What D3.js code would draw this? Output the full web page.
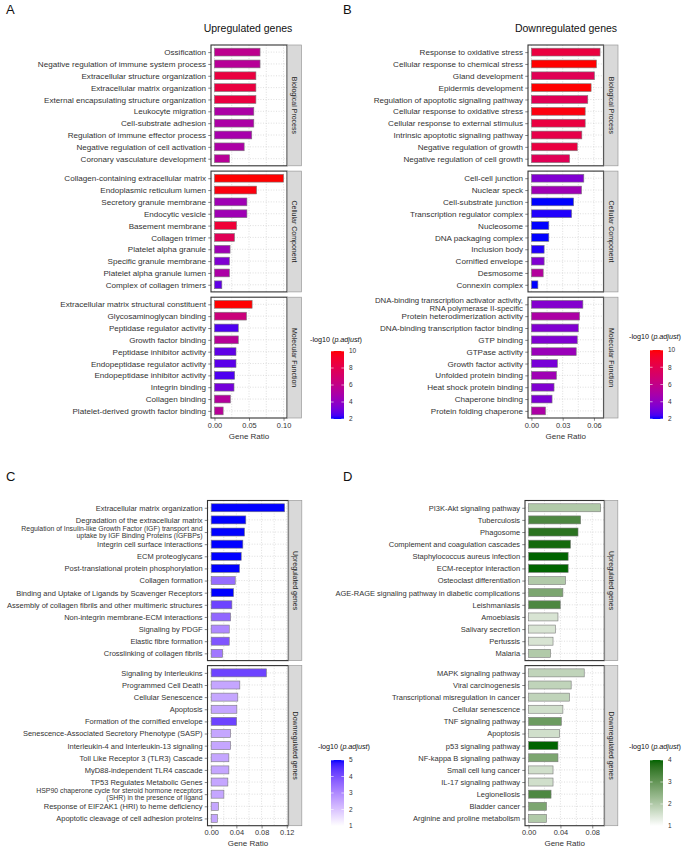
<!DOCTYPE html>
<html>
<head>
<meta charset="utf-8">
<script src="https://cdn.jsdelivr.net/npm/d3@7"></script>
<style>
  body { margin: 0; background: #fff; }
  svg { font-family: "Liberation Sans", Arial, sans-serif; }
</style>
</head>
<body>
<svg width="685" height="847"></svg>
<script>
// ---- panel A : GO, upregulated ----
const aBpTerms = ["Ossification", "Negative regulation of immune system process", "Extracellular structure organization", "Extracellular matrix organization", "External encapsulating structure organization", "Leukocyte migration", "Cell-substrate adhesion", "Regulation of immune effector process", "Negative regulation of cell activation", "Coronary vasculature development"]
const aBpRatio = [0.066, 0.066, 0.060, 0.060, 0.060, 0.057, 0.057, 0.054, 0.043, 0.022]
const aBpScore = [5.8, 5.5, 8.5, 8.5, 8.5, 5, 5, 4.8, 5, 5.5]
const aCcTerms = ["Collagen-containing extracellular matrix", "Endoplasmic reticulum lumen", "Secretory granule membrane", "Endocytic vesicle", "Basement membrane", "Collagen trimer", "Platelet alpha granule", "Specific granule membrane", "Platelet alpha granule lumen", "Complex of collagen trimers"]
const aCcRatio = [0.100, 0.061, 0.047, 0.047, 0.032, 0.029, 0.0226, 0.0217, 0.0217, 0.0107]
const aCcScore = [10, 9.8, 4.5, 4.5, 8.8, 7.8, 4.5, 3.5, 5, 2.8]
const aMfTerms = ["Extracellular matrix structural constituent", "Glycosaminoglycan binding", "Peptidase regulator activity", "Growth factor binding", "Peptidase inhibitor activity", "Endopeptidase regulator activity", "Endopeptidase inhibitor activity", "Integrin binding", "Collagen binding", "Platelet-derived growth factor binding"]
const aMfRatio = [0.0545, 0.0464, 0.0345, 0.0345, 0.0312, 0.0312, 0.0293, 0.0283, 0.0231, 0.0126]
const aMfScore = [10, 6.5, 2.5, 5.5, 2.8, 2.7, 2.5, 3.2, 5.3, 5.5]

// ---- panel B : GO, downregulated ----
const bBpTerms = ["Response to oxidative stress", "Cellular response to chemical stress", "Gland development", "Epidermis development", "Regulation of apoptotic signaling pathway", "Cellular response to oxidative stress", "Cellular response to external stimulus", "Intrinsic apoptotic signaling pathway", "Negative regulation of growth", "Negative regulation of cell growth"]
const bBpRatio = [0.0659, 0.0624, 0.0605, 0.0573, 0.0541, 0.0516, 0.0516, 0.0484, 0.044, 0.0367]
const bBpScore = [8.5, 10, 7.8, 10, 7.8, 9.8, 8.5, 8.2, 8.5, 7.8]
const bCcTerms = ["Cell-cell junction", "Nuclear speck", "Cell-substrate junction", "Transcription regulator complex", "Nucleosome", "DNA packaging complex", "Inclusion body", "Cornified envelope", "Desmosome", "Connexin complex"]
const bCcRatio = [0.0503, 0.0481, 0.0405, 0.0386, 0.0167, 0.0167, 0.0122, 0.0122, 0.0113, 0.0062]
const bCcScore = [3.5, 4.5, 2, 2.1, 2, 2, 2.1, 3.5, 5.3, 2]
const bMfTerms = ["DNA-binding transcription activator activity,\nRNA polymerase II-specific", "Protein heterodimerization activity", "DNA-binding transcription factor binding", "GTP binding", "GTPase activity", "Growth factor activity", "Unfolded protein binding", "Heat shock protein binding", "Chaperone binding", "Protein folding chaperone"]
const bMfRatio = [0.0494, 0.0462, 0.045, 0.044, 0.043, 0.025, 0.024, 0.0217, 0.0198, 0.0135]
const bMfScore = [3.6, 5, 3.5, 3.5, 4.3, 3.3, 4.5, 3.5, 3.4, 5]

// ---- panel C : Reactome ----
const cUpTerms = ["Extracellular matrix organization", "Degradation of the extracellular matrix", "Regulation of Insulin-like Growth Factor (IGF) transport and\nuptake by IGF Binding Proteins (IGFBPs)", "Integrin cell surface interactions", "ECM proteoglycans", "Post-translational protein phosphorylation", "Collagen formation", "Binding and Uptake of Ligands by Scavenger Receptors", "Assembly of collagen fibrils and other multimeric structures", "Non-integrin membrane-ECM interactions", "Signaling by PDGF", "Elastic fibre formation", "Crosslinking of collagen fibrils"]
const cUpRatio = [0.1166, 0.055, 0.0529, 0.0503, 0.0477, 0.045, 0.0382, 0.0355, 0.0329, 0.0308, 0.0287, 0.0287, 0.0182]
const cUpScore = [5, 5, 5, 5, 5, 5, 3.5, 5, 4.2, 3.6, 3, 3.9, 3.3]
const cDownTerms = ["Signaling by Interleukins", "Programmed Cell Death", "Cellular Senescence", "Apoptosis", "Formation of the cornified envelope", "Senescence-Associated Secretory Phenotype (SASP)", "Interleukin-4 and Interleukin-13 signaling", "Toll Like Receptor 3 (TLR3) Cascade", "MyD88-independent TLR4 cascade ", "TP53 Regulates Metabolic Genes", "HSP90 chaperone cycle for steroid hormone receptors\n(SHR) in the presence of ligand", "Response of EIF2AK1 (HRI) to heme deficiency", "Apoptotic cleavage of cell adhesion  proteins"]
const cDownRatio = [0.0877, 0.0455, 0.0423, 0.0408, 0.0403, 0.0308, 0.0308, 0.0281, 0.0281, 0.0265, 0.0202, 0.0114, 0.0098]
const cDownScore = [4.2, 2.5, 2.5, 2.5, 4.2, 2.5, 2.5, 2.5, 2.5, 2.5, 2.5, 2.5, 2.5]

// ---- panel D : KEGG ----
const dUpTerms = ["PI3K-Akt signaling pathway", "Tuberculosis", "Phagosome", "Complement and coagulation cascades", "Staphylococcus aureus infection", "ECM-receptor interaction", "Osteoclast differentiation", "AGE-RAGE signaling pathway in diabetic complications", "Leishmaniasis", "Amoebiasis", "Salivary secretion", "Pertussis", "Malaria"]
const dUpRatio = [0.0906, 0.0654, 0.0621, 0.0526, 0.0497, 0.0497, 0.0464, 0.0431, 0.0398, 0.0369, 0.0336, 0.0307, 0.0275]
const dUpScore = [2, 3.3, 3.7, 3.9, 4, 4, 2, 2.7, 3.3, 1.5, 1.5, 1.5, 2]
const dDownTerms = ["MAPK signaling pathway", "Viral carcinogenesis", "Transcriptional misregulation in cancer", "Cellular senescence", "TNF signaling pathway", "Apoptosis", "p53 signaling pathway", "NF-kappa B signaling pathway", "Small cell lung cancer", "IL-17 signaling pathway", "Legionellosis", "Bladder cancer", "Arginine and proline metabolism"]
const dDownRatio = [0.0699, 0.0535, 0.0514, 0.0431, 0.0411, 0.039, 0.0369, 0.0369, 0.0307, 0.0307, 0.0282, 0.0225, 0.0225]
const dDownScore = [1.8, 1.8, 1.8, 1.6, 2.9, 1.6, 4, 2.7, 1.6, 1.6, 3.3, 2.7, 2]

const goStrips = ["Biological Process", "Cellular Component", "Molecular Function"]
const pathStrips = ["Upregulated genes", "Downregulated genes"]

const svg = d3.select('svg')
const fmt = d3.format('.2f')
const ink = '#333'

const facet = (strip, terms, ratio, score) => ({ strip, terms, ratio, score })

function drawPanel(o) {
    const g = svg.append('g')
    g.append('text')
        .attr('x', o.letter[1]).attr('y', o.letter[2])
        .attr('font-size', 13).attr('fill', '#111')
        .text(o.letter[0])
    if (o.title) {
        g.append('text')
            .attr('x', o.title[1]).attr('y', o.title[2])
            .attr('text-anchor', 'middle').attr('font-size', 10.5).attr('fill', '#111')
            .text(o.title[0])
    }

    const maxR = d3.max(o.facets, f => d3.max(f.ratio))
    const x = d3.scaleLinear()
        .domain([-0.05 * maxR, 1.05 * maxR])
        .range([o.left, o.right])
    const ticks = o.ticks
    const minor = d3.pairs(ticks).map(([a, b]) => (a + b) / 2)

    const n = o.facets.length
    const fh = (o.bottom - o.top - o.gap * (n - 1)) / n

    o.facets.forEach((f, i) => {
        const y0 = o.top + i * (fh + o.gap)
        const y = d3.scalePoint().domain(f.terms).range([y0, y0 + fh]).padding(0.6)
        const bh = y.step() * 0.66
        const fg = g.append('g')

        // grid
        fg.selectAll('line.vg').data(ticks.concat(minor))
            .enter().append('line')
            .attr('x1', d => x(d)).attr('x2', d => x(d))
            .attr('y1', y0).attr('y2', y0 + fh)
            .attr('stroke', '#c8c8c8').attr('stroke-width', 0.6)
            .attr('stroke-dasharray', '1,1.6')
        fg.selectAll('line.hg').data(f.terms)
            .enter().append('line')
            .attr('x1', o.left).attr('x2', o.right)
            .attr('y1', d => y(d)).attr('y2', d => y(d))
            .attr('stroke', '#c8c8c8').attr('stroke-width', 0.6)
            .attr('stroke-dasharray', '1,1.6')

        // bars
        fg.selectAll('rect.bar').data(f.terms)
            .enter().append('rect')
            .attr('x', x(0))
            .attr('y', d => y(d) - bh / 2)
            .attr('width', (d, j) => x(f.ratio[j]) - x(0))
            .attr('height', bh)
            .attr('fill', (d, j) => o.color(f.score[j]))
            .attr('stroke', '#7a7a7a').attr('stroke-width', 0.6)

        // panel border
        fg.append('rect')
            .attr('x', o.left).attr('y', y0)
            .attr('width', o.right - o.left).attr('height', fh)
            .attr('fill', 'none').attr('stroke', ink).attr('stroke-width', 1.1)

        // strip
        fg.append('rect')
            .attr('x', o.right + 0.5).attr('y', y0)
            .attr('width', o.stripW).attr('height', fh)
            .attr('fill', '#d9d9d9').attr('stroke', '#9a9a9a').attr('stroke-width', 0.7)
        fg.append('text')
            .attr('transform', `translate(${o.right + 0.5 + o.stripW / 2},${y0 + fh / 2}) rotate(90)`)
            .attr('text-anchor', 'middle').attr('dy', '0.35em')
            .attr('font-size', 7).attr('fill', '#1a1a1a')
            .text(f.strip)

        // y axis
        const ya = fg.append('g')
            .attr('transform', `translate(${o.left},0)`)
            .call(d3.axisLeft(y).tickSize(2.75).tickPadding(2.2))
        ya.select('.domain').remove()
        ya.selectAll('.tick line').attr('stroke', ink).attr('stroke-width', 0.6)
        ya.selectAll('.tick text')
            .attr('fill', ink).attr('font-family', null)
            .attr('font-size', d => d.includes('\n') ? o.smallFont : o.font)
            .each(function (d) {
                const lines = d.split('\n')
                if (lines.length < 2) return
                const t = d3.select(this).text(null).attr('dy', null)
                lines.forEach((s, k) => {
                    t.append('tspan')
                        .attr('x', -5)
                        .attr('y', (k - (lines.length - 1) / 2) * o.smallFont * 1.0 - 0.5)
                        .attr('dy', '0.32em')
                        .text(s)
                })
            })
    })

    // x axis
    const xa = g.append('g')
        .attr('transform', `translate(0,${o.bottom})`)
        .call(d3.axisBottom(x).tickValues(ticks).tickFormat(fmt).tickSize(2.75).tickPadding(1.5))
    xa.select('.domain').remove()
    xa.selectAll('.tick line').attr('stroke', ink).attr('stroke-width', 0.6)
    xa.selectAll('.tick text').attr('fill', ink).attr('font-family', null).attr('font-size', 7.4)
    g.append('text')
        .attr('x', (o.left + o.right) / 2).attr('y', o.bottom + 20.5)
        .attr('text-anchor', 'middle').attr('font-size', 8).attr('fill', ink)
        .text('Gene Ratio')

    // legend
    const L = o.legend
    const id = 'grad' + o.letter[0]
    const grad = svg.append('defs').append('linearGradient')
        .attr('id', id).attr('x1', 0).attr('x2', 0).attr('y1', 1).attr('y2', 0)
    const dom = o.color.domain()
    d3.range(0, 1.0001, 0.05).forEach(t => {
        grad.append('stop').attr('offset', t)
            .attr('stop-color', o.color(dom[0] + t * (dom[1] - dom[0])))
    })
    const lt = g.append('text')
        .attr('x', L.x).attr('y', L.titleY)
        .attr('font-size', 7.2).attr('fill', '#111')
    lt.append('tspan').text('-log10 (')
    lt.append('tspan').attr('font-style', 'italic').text('p.adjust')
    lt.append('tspan').text(')')
    const ly = d3.scaleLinear().domain(dom).range([L.bottom, L.top])
    g.append('rect')
        .attr('x', L.barX).attr('y', L.top)
        .attr('width', 13).attr('height', L.bottom - L.top)
        .attr('fill', `url(#${id})`)
    const lg = g.append('g')
    lg.selectAll('line.l').data(L.breaks).enter().append('line')
        .attr('x1', L.barX).attr('x2', L.barX + 2.6)
        .attr('y1', d => ly(d)).attr('y2', d => ly(d))
        .attr('stroke', '#fff').attr('stroke-width', 0.6)
    lg.selectAll('line.r').data(L.breaks).enter().append('line')
        .attr('x1', L.barX + 10.4).attr('x2', L.barX + 13)
        .attr('y1', d => ly(d)).attr('y2', d => ly(d))
        .attr('stroke', '#fff').attr('stroke-width', 0.6)
    lg.selectAll('text').data(L.breaks).enter().append('text')
        .attr('x', L.barX + 18).attr('y', d => ly(d)).attr('dy', '0.35em')
        .attr('font-size', 6.5).attr('fill', ink)
        .text(d => d)
}

const goColor = d3.scaleLinear().domain([2, 10]).range(['blue', 'red']).interpolate(d3.interpolateLab)
const reactColor = d3.scaleLinear().domain([1, 5]).range(['white', 'blue']).interpolate(d3.interpolateLab)
const keggColor = d3.scaleLinear().domain([1, 4]).range(['white', 'darkgreen']).interpolate(d3.interpolateLab)

drawPanel({
    letter: ['A', 6, 14], title: ['Upregulated genes', 248, 32],
    left: 211, right: 287, top: 45, bottom: 418, gap: 5.3, stripW: 14,
    font: 8.1, smallFont: 8.1, ticks: [0, 0.05, 0.10], color: goColor,
    facets: [facet(goStrips[0], aBpTerms, aBpRatio, aBpScore),
             facet(goStrips[1], aCcTerms, aCcRatio, aCcScore),
             facet(goStrips[2], aMfTerms, aMfRatio, aMfScore)],
    legend: { x: 310, titleY: 342, barX: 331, top: 351, bottom: 419, breaks: [2, 4, 6, 8, 10] }
})

drawPanel({
    letter: ['B', 343, 14], title: ['Downregulated genes', 566, 32],
    left: 528, right: 603.5, top: 45, bottom: 418, gap: 5.3, stripW: 14,
    font: 8.1, smallFont: 7.8, ticks: [0, 0.03, 0.06], color: goColor,
    facets: [facet(goStrips[0], bBpTerms, bBpRatio, bBpScore),
             facet(goStrips[1], bCcTerms, bCcRatio, bCcScore),
             facet(goStrips[2], bMfTerms, bMfRatio, bMfScore)],
    legend: { x: 629, titleY: 339, barX: 650, top: 350, bottom: 419, breaks: [2, 4, 6, 8, 10] }
})

drawPanel({
    letter: ['C', 6, 481],
    left: 207.5, right: 288.3, top: 500.5, bottom: 825.7, gap: 5, stripW: 13,
    font: 7.5, smallFont: 6.9, ticks: [0, 0.04, 0.08, 0.12], color: reactColor,
    facets: [facet(pathStrips[0], cUpTerms, cUpRatio, cUpScore),
             facet(pathStrips[1], cDownTerms, cDownRatio, cDownScore)],
    legend: { x: 318, titleY: 749, barX: 331, top: 760, bottom: 826, breaks: [1, 2, 3, 4, 5] }
})

drawPanel({
    letter: ['D', 343, 481],
    left: 525, right: 604.3, top: 500.5, bottom: 825.7, gap: 5, stripW: 13,
    font: 7.5, smallFont: 6.9, ticks: [0, 0.04, 0.08], color: keggColor,
    facets: [facet(pathStrips[0], dUpTerms, dUpRatio, dUpScore),
             facet(pathStrips[1], dDownTerms, dDownRatio, dDownScore)],
    legend: { x: 629, titleY: 749, barX: 650, top: 760, bottom: 826, breaks: [1, 2, 3, 4] }
})
</script>
</body>
</html>
